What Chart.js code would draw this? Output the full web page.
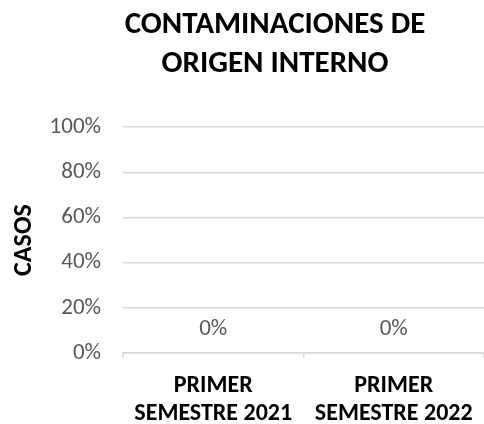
<!DOCTYPE html>
<html>
<head>
<meta charset="utf-8">
<script src="https://cdn.jsdelivr.net/npm/chart.js@4"></script>
<style>
  html, body { margin: 0; padding: 0; background: #fff; }
  #wrap { width: 484px; height: 424px; }
</style>
</head>
<body>
<div id="wrap"><canvas id="chart"></canvas></div>
<script>
// chart data
const categories = [['PRIMER', 'SEMESTRE 2021'], ['PRIMER', 'SEMESTRE 2022']];
const casos = [0, 0];
const yTicks = [0, 0.2, 0.4, 0.6, 0.8, 1];

const FONT = 'Carlito, Lato, sans-serif';
Chart.defaults.font.family = FONT;

// draws "0%" above each bar, like the excel data labels
const barLabels = {
    id: 'barLabels',
    afterLayout(chart) {
        // excel centres the title a bit right of the canvas middle
        if (chart.titleBlock) {
            chart.titleBlock.left = 66;
        }
    },
    afterDatasetsDraw(chart) {
        const ctx = chart.ctx;
        const meta = chart.getDatasetMeta(0);
        ctx.save();
        ctx.font = '23px ' + FONT;
        ctx.fillStyle = '#595959';
        ctx.textAlign = 'center';
        ctx.textBaseline = 'middle';
        meta.data.forEach((bar, i) => {
            const v = chart.data.datasets[0].data[i];
            ctx.fillText(Math.round(v * 100) + '%', bar.x, bar.y - 24);
        });
        ctx.restore();
    }
};

new Chart(document.getElementById('chart'), {
    type: 'bar',
    data: {
        labels: categories,
        datasets: [{
            label: 'CASOS',
            data: casos,
            backgroundColor: '#4472c4'
        }]
    },
    options: {
        responsive: true,
        maintainAspectRatio: false,
        animation: false,
        layout: { padding: { left: 0, right: 0, top: 6, bottom: 0 } },
        plugins: {
            legend: { display: false },
            tooltip: { enabled: false },
            title: {
                display: true,
                text: ['CONTAMINACIONES DE', 'ORIGEN INTERNO'],
                color: '#000',
                font: { size: 31, weight: 'bold', lineHeight: 1.26 },
                padding: { top: 0, bottom: 43 }
            }
        },
        scales: {
            x: {
                afterFit(axis) {
                    axis.height = 71;
                    axis.paddingLeft = 0;
                    axis.paddingRight = 0;
                },
                grid: {
                    offset: true,
                    drawOnChartArea: false,
                    tickLength: 5,
                    color: '#d9d9d9',
                    lineWidth: 1.5
                },
                border: { color: '#d9d9d9', width: 1.5 },
                ticks: {
                    color: '#000',
                    font: { size: 24, weight: 'bold', lineHeight: 1.17 },
                    padding: 14,
                    maxRotation: 0,
                    autoSkip: false
                }
            },
            y: {
                min: 0,
                max: 1,
                afterBuildTicks(axis) {
                    axis.ticks = yTicks.map(v => ({ value: v }));
                },
                afterFit(axis) {
                    axis.width = 123;
                },
                grid: { color: '#d9d9d9', lineWidth: 1.5, drawTicks: false },
                border: { display: false },
                ticks: {
                    color: '#595959',
                    font: { size: 23 },
                    padding: 22,
                    callback: v => Math.round(v * 100) + '%'
                },
                title: {
                    display: true,
                    text: 'CASOS',
                    color: '#000',
                    font: { size: 26, weight: 'bold' },
                    padding: { top: 9, bottom: 0 }
                }
            }
        }
    },
    plugins: [barLabels]
});
</script>
</body>
</html>
